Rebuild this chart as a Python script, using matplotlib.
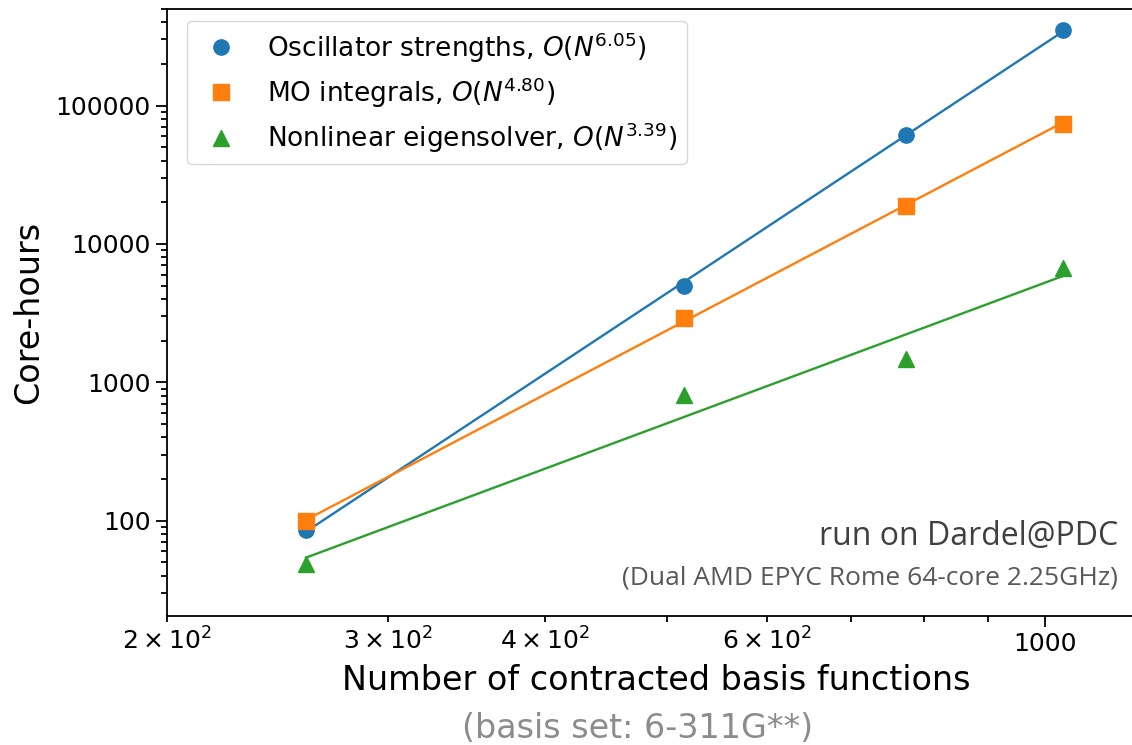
import matplotlib
matplotlib.use("Agg")
import matplotlib.pyplot as plt
import matplotlib.ticker as mticker
import numpy as np

# basis set sizes (number of contracted basis functions)
n_basis = [258, 516, 774, 1032]

# core-hours per step
osc_strengths = [86, 4990, 61500, 350000]
mo_integrals = [99, 2900, 18900, 74000]
eigensolver = [49, 813, 1473, 6730]

series_names = ["Oscillator strengths", "MO integrals", "Nonlinear eigensolver"]
exponent_labels = ["6.05", "4.80", "3.39"]
series_values = [osc_strengths, mo_integrals, eigensolver]
series_markers = ["o", "s", "^"]
series_colors = ["#1f77b4", "#ff7f0e", "#2ca02c"]

fig = plt.figure(figsize=(11.32, 7.45), dpi=100)
# axes run a bit past the right edge of the figure, like the cropped original
ax = fig.add_axes([0.1475, 0.1732, 0.864, 0.815])

x = np.array(n_basis, dtype=float)
for name, expo, vals, mk, col in zip(series_names, exponent_labels,
                                     series_values, series_markers, series_colors):
    y = np.array(vals, dtype=float)
    # power-law fit in log-log space
    slope, icpt = np.polyfit(np.log10(x), np.log10(y), 1)
    ax.plot(x, 10 ** (icpt + slope * np.log10(x)), '-', color=col, lw=1.7)
    ax.plot(x, y, mk, color=col, ms=11, ls='none',
            label=f'{name}, $O(N^{{{expo}}})$')

ax.set_xscale('log')
ax.set_yscale('log')
ax.set_xlim(200, 1200)
ax.set_ylim(20.5, 5.0e5)

ax.xaxis.set_major_formatter(mticker.ScalarFormatter())
ax.yaxis.set_major_formatter(mticker.StrMethodFormatter('{x:.0f}'))

ax.tick_params(which='both', labelsize=18, width=1.3)
ax.tick_params(which='major', length=8)
ax.tick_params(which='minor', length=4.5)
for sp in ax.spines.values():
    sp.set_linewidth(1.3)

ax.set_xlabel('Number of contracted basis functions', fontsize=24, labelpad=6)
ax.set_ylabel('Core-hours', fontsize=24, labelpad=8)

ax.legend(loc='upper left', bbox_to_anchor=(0.0204, 0.98), borderaxespad=0,
          fontsize=19, handlelength=1.9, handletextpad=0.8,
          labelspacing=0.4, borderpad=0.35)

fig.text(1118 / 1132, 1 - 537 / 745, 'run on Dardel@PDC', ha='right', va='center',
         fontsize=23, family='Open Sans', color='#404040')
fig.text(1118 / 1132, 1 - 578 / 745, '(Dual AMD EPYC Rome 64-core 2.25GHz)',
         ha='right', va='center', fontsize=19, family='Open Sans', color='#595959')
fig.text(638 / 1132, 1 - 728 / 745, '(basis set: 6-311G**)', ha='center', va='center',
         fontsize=24, color='#8c8c8c')

fig.savefig('out.png', dpi=100, facecolor='white')
